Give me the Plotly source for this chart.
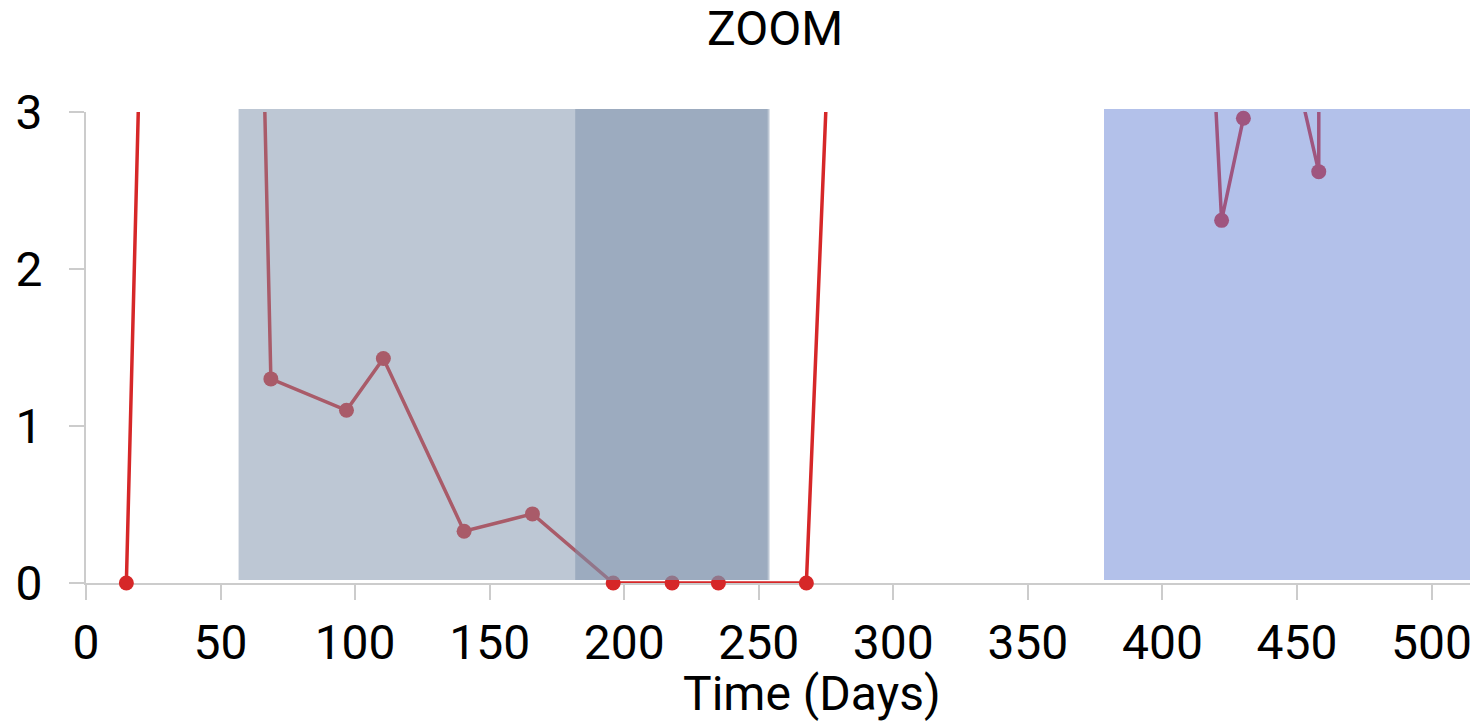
import plotly.graph_objects as go

# ---- data (points above 3 lie outside the zoomed view) ----
days = [15, 29, 62.5, 68.7, 96.8, 110.5, 140.5, 165.9, 195.9, 217.8, 235.0, 267.7,
        285, 414, 422.0, 430.1, 445, 458.1, 458.6]
values = [0, 9.5, 6.0, 1.30, 1.10, 1.43, 0.33, 0.44, 0, 0, 0, 0,
          7.2, 5.0, 2.31, 2.96, 3.6, 2.62, 12.0]

# shaded periods (start day, end day)
period_starts = [56.7, 181.8, 378.3]
period_ends = [254.0, 253.3, 600]
period_colors = ["rgb(123,143,169)", "rgb(123,143,169)", "rgb(103,131,213)"]

x_ticks = [0, 50, 100, 150, 200, 250, 300, 350, 400, 450, 500]
y_ticks = [0, 1, 2, 3]

Y_MAX = 3
RED = "#d62728"
FONT = "Roboto"
FS = 48

fig = go.Figure()

# line (clipped to the plot area)
fig.add_trace(go.Scatter(
    x=days, y=values, mode="lines",
    line=dict(color=RED, width=3.5),
    hoverinfo="skip", showlegend=False,
))

# markers for the points that are inside the view (not clipped)
in_x = [d for d, v in zip(days, values) if v <= Y_MAX]
in_y = [v for v in values if v <= Y_MAX]
fig.add_trace(go.Scatter(
    x=in_x, y=in_y, mode="markers",
    marker=dict(color=RED, size=15, line=dict(width=0)),
    cliponaxis=False, showlegend=False,
))

shift = 3 / 471
for s, e, c in zip(period_starts, period_ends, period_colors):
    fig.add_shape(type="rect", xref="x", yref="paper",
                  x0=s, x1=e, y0=shift, y1=1 + shift,
                  fillcolor=c, opacity=0.5, line=dict(width=0), layer="above")

# the page body adds an 8px offset, so the figure is 8px smaller than the window
fig.update_layout(
    width=1470, height=715,
    margin=dict(l=78, r=0, t=104, b=140),
    plot_bgcolor="white", paper_bgcolor="white",
    font=dict(family=FONT, size=FS, color="black"),
    showlegend=False,
    annotations=[
        dict(text="ZOOM", xref="paper", yref="paper",
             x=(775 - 86) / 1392, y=1 + (112 - 28) / 471,
             xanchor="center", yanchor="middle", showarrow=False,
             font=dict(family=FONT, size=FS, color="black")),
        dict(text="Time (Days)", xref="paper", yref="paper",
             x=(812 - 86) / 1392, y=-(693 - 583) / 471,
             xanchor="center", yanchor="middle", showarrow=False,
             font=dict(family=FONT, size=FS, color="black")),
    ],
)

fig.update_xaxes(
    range=[0, 1392 / 2.691], tickvals=x_ticks,
    showgrid=False, zeroline=False,
    showline=True, linecolor="#cccccc", linewidth=2,
    ticks="outside", ticklen=15, tickwidth=2, tickcolor="#cccccc",
    ticklabelstandoff=1, layer="below traces",
    tickfont=dict(family=FONT, size=FS, color="black"),
)
fig.update_yaxes(
    range=[0, Y_MAX], tickvals=y_ticks,
    showgrid=False, zeroline=False,
    showline=True, linecolor="#cccccc", linewidth=2,
    ticks="outside", ticklen=15, tickwidth=2, tickcolor="#cccccc",
    ticklabelstandoff=17, layer="below traces",
    tickfont=dict(family=FONT, size=FS, color="black"),
)

fig.write_html("out.html", config={"displayModeBar": False})
